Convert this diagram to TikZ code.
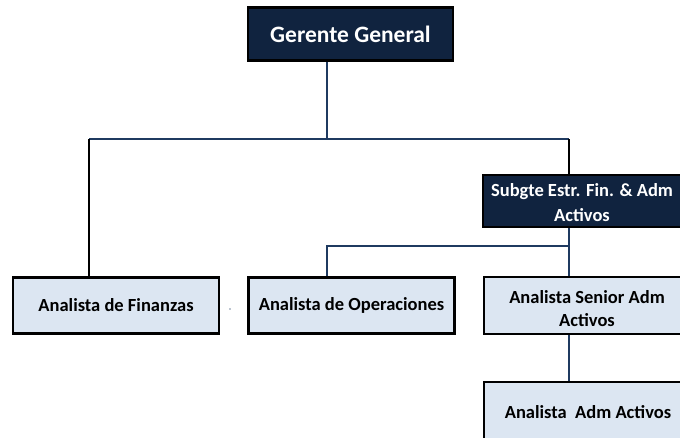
\documentclass[tikz,border=0pt]{standalone}
\usepackage{fontspec}
\setmainfont{Carlito}
\definecolor{navy}{HTML}{10233F}
\definecolor{lightbox}{HTML}{DCE6F2}
\definecolor{linkc}{HTML}{1F3A60}
\begin{document}
\begin{tikzpicture}[x=1pt,y=-1pt,
  darkbox/.style={draw=black,line width=2.5pt,fill=navy,text=white,inner sep=0pt},
  lightbx/.style={draw=black,line width=2.2pt,fill=lightbox,inner sep=0pt},
  txt/.style={font=\bfseries\fontsize{18.5}{23}\selectfont,align=center,inner sep=0pt},
  link/.style={draw=linkc,line width=2pt},
  linkb/.style={draw=black,line width=2pt}]
\useasboundingbox (0,0) rectangle (680,437);
\clip (0,0) rectangle (680,437);
% boxes
\node[darkbox,minimum width=205pt,minimum height=53pt,font=\bfseries\fontsize{23.5}{28}\selectfont] (gg) at (350.5,34) {Gerente General};
\node[darkbox,minimum width=200pt,minimum height=52pt] (sub) at (583,201) {};
\node[txt,text=white,font=\bfseries\fontsize{18.5}{25}\selectfont] (subt) at (582,202.5) {Subgte Estr. Fin. \& Adm\\Activos};
\node[lightbx,minimum width=206pt,minimum height=56pt,txt] (fin) at (116,305.5) {Analista de Finanzas};
\node[lightbx,minimum width=206pt,minimum height=56pt,txt] (ope) at (351.5,305.5) {Analista de Operaciones};
\node[lightbx,minimum width=210pt,minimum height=57pt] (sen) at (589,305.5) {};
\node[txt] (sent) at (587,308.5) {Analista Senior Adm\\Activos};
\node[lightbx,minimum width=210pt,minimum height=70pt] (adm) at (589,417) {};
\node[txt] (admt) at (588,412) {Analista\ \ Adm Activos};
% junction coordinates
\coordinate (j1) at (327,139);
\coordinate (jl) at (89,139);
\coordinate (jr) at (569,139);
\coordinate (j2) at (569,245.5);
\coordinate (j3) at (327,245.5);
\coordinate (dot) at (230,309);
% connectors
\draw[link] (gg.south -| j1) -- (j1);
\draw[link] (jl) -- (jr);
\draw[linkb] (jl) -- (jl |- fin.north);
\draw[linkb] (jr) -- (jr |- sub.north);
\draw[link] (sub.south -| j2) -- (j2 |- sen.north);
\draw[link] (j2) -- (j3) -- (j3 |- ope.north);
\draw[link] (sen.south -| j2) -- (j2 |- adm.north);
\fill[linkc!60] (dot) circle (0.8pt);
\end{tikzpicture}
\end{document}
